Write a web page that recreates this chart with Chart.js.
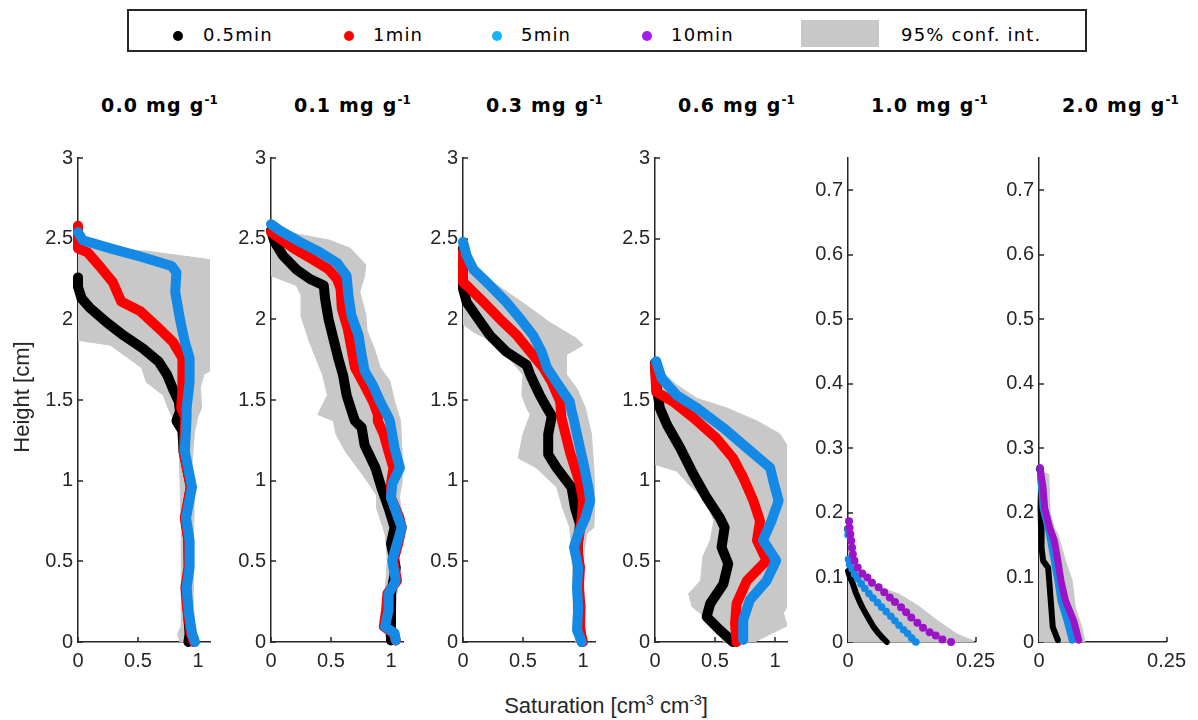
<!DOCTYPE html>
<html>
<head>
<meta charset="utf-8">
<script src="https://cdn.jsdelivr.net/npm/chart.js@4.4.1/dist/chart.umd.min.js"></script>
<style>
  body { margin: 0; background: #fff; width: 1198px; height: 720px; position: relative; overflow: hidden;
         font-family: "Liberation Sans", Arial, sans-serif; color: #262626; }
  .panel { position: absolute; top: 141px; }
  .title { position: absolute; top: 94px; font: bold 19px "DejaVu Sans", sans-serif; letter-spacing: 1.2px;
           line-height: 22px; white-space: nowrap; color: #000; }
  .title sup { font-size: 12px; line-height: 0; vertical-align: 8px; letter-spacing: 0; }
  #legend { position: absolute; left: 127px; top: 9px; width: 960px; height: 43px; box-sizing: border-box;
            border: 2px solid #262626; background: #fff; }
  .lg-dot { position: absolute; width: 10px; height: 10px; border-radius: 50%; top: 20px; }
  .lg-txt { position: absolute; top: 12px; font: 18px "DejaVu Sans", sans-serif; letter-spacing: 1.2px;
            line-height: 24px; color: #000; white-space: nowrap; }
  .lg-patch { position: absolute; left: 672px; top: 9px; width: 78px; height: 27px; background: #c8c8c8; }
  .axlabel { position: absolute; font-size: 22px; line-height: 24px; white-space: nowrap; text-align: center; }
  .axlabel sup { font-size: 14px; line-height: 0; vertical-align: 8px; }
</style>
</head>
<body>
<div id="legend"></div>
<div id="panels"></div>
<div class="axlabel" style="left:406px;top:694px;width:400px;">Saturation [cm<sup>3</sup> cm<sup>-3</sup>]</div>
<div class="axlabel" style="left:-78px;top:385px;width:200px;transform:rotate(-90deg);">Height [cm]</div>
<script>
// categories / labels
const concLabels = ["0.0", "0.1", "0.3", "0.6", "1.0", "2.0"];
const timeLabels = ["0.5min", "1min", "5min", "10min"];
const bandLabel = "95% conf. int.";
const xTicksWide = [0, 0.5, 1];
const xTicksNarrow = [0, 0.25];
const yTicksTall = [0, 0.5, 1, 1.5, 2, 2.5, 3];
const yTicksShort = [0, 0.1, 0.2, 0.3, 0.4, 0.5, 0.6, 0.7];

// profiles: [saturation, height]
const black00 = [[0,2.26],[0,2.2],[0.03,2.13],[0.10,2.07],[0.24,1.98],[0.38,1.90],[0.54,1.82],[0.67,1.74],[0.74,1.66],[0.79,1.57],[0.84,1.49],[0.85,1.43],[0.82,1.37],[0.87,1.31],[0.88,1.18],[0.94,0.96],[0.895,0.77],[0.92,0.63],[0.925,0.46],[0.9,0.34],[0.915,0.2],[0.93,0.05],[0.92,0]];
const red00 = [[0,2.58],[0,2.44],[0.08,2.415],[0.18,2.33],[0.29,2.23],[0.36,2.11],[0.52,2.05],[0.68,1.94],[0.79,1.86],[0.87,1.76],[0.87,1.66],[0.87,1.57],[0.86,1.45],[0.895,1.39],[0.88,1.18],[0.94,0.96],[0.89,0.77],[0.92,0.63],[0.92,0.46],[0.895,0.34],[0.91,0.2],[0.94,0.055],[0.965,0]];
const blue00 = [[0,2.54],[0.04,2.49],[0.27,2.44],[0.54,2.385],[0.78,2.33],[0.82,2.29],[0.81,2.17],[0.85,2.0],[0.89,1.86],[0.93,1.76],[0.93,1.61],[0.905,1.45],[0.905,1.39],[0.89,1.18],[0.95,0.96],[0.90,0.77],[0.93,0.63],[0.93,0.46],[0.905,0.34],[0.92,0.2],[0.95,0.055],[0.975,0]];
const band00 = [[0,2.46],[0.6,2.42],[1.1,2.37],[1.1,1.68],[1.05,1.66],[1.02,1.58],[1.03,1.45],[1.0,1.40],[0.97,1.30],[0.95,1.1],[0.97,0.9],[0.96,0.6],[0.96,0.3],[0.97,0.1],[0.99,0.05],[0.97,0],[0.85,0],[0.83,0.05],[0.86,0.1],[0.86,0.4],[0.86,0.7],[0.85,1.0],[0.84,1.29],[0.80,1.37],[0.75,1.45],[0.71,1.53],[0.57,1.61],[0.53,1.70],[0.38,1.78],[0.27,1.84],[0,1.87]];

const black01 = [[0,2.55],[0.03,2.48],[0.10,2.395],[0.21,2.31],[0.325,2.25],[0.44,2.21],[0.45,2.13],[0.48,2.0],[0.52,1.88],[0.56,1.76],[0.60,1.655],[0.63,1.53],[0.69,1.39],[0.70,1.37],[0.755,1.33],[0.78,1.22],[0.87,1.08],[0.92,0.957],[0.98,0.83],[1.03,0.71],[1.0,0.61],[1.04,0.46],[1.0,0.3],[1.0,0.1],[1.0,0.01]];
const red01 = [[0,2.54],[0.075,2.50],[0.19,2.44],[0.35,2.37],[0.48,2.31],[0.55,2.25],[0.58,2.19],[0.59,2.07],[0.64,1.94],[0.67,1.82],[0.70,1.70],[0.78,1.59],[0.85,1.49],[0.89,1.41],[0.89,1.37],[0.94,1.286],[0.98,1.18],[1.02,1.08],[1.0,0.98],[1.0,0.895],[1.07,0.77],[1.09,0.71],[1.06,0.61],[1.02,0.505],[1.05,0.38],[0.97,0.30],[0.96,0.20],[0.94,0.095],[1.02,0.055],[1.04,0.01]];
const blue01 = [[0,2.59],[0.075,2.55],[0.24,2.48],[0.41,2.415],[0.55,2.35],[0.63,2.27],[0.645,2.15],[0.67,2.025],[0.73,1.90],[0.755,1.78],[0.78,1.68],[0.85,1.59],[0.91,1.49],[0.98,1.39],[0.99,1.37],[1.0,1.33],[1.03,1.2],[1.075,1.08],[1.01,0.98],[1.0,0.895],[1.06,0.77],[1.09,0.71],[1.05,0.61],[1.01,0.505],[1.04,0.38],[0.98,0.30],[0.98,0.20],[0.95,0.095],[1.03,0.055],[1.04,0.01]];
const band01 = [[0,2.57],[0.21,2.53],[0.49,2.49],[0.66,2.44],[0.79,2.34],[0.78,2.27],[0.74,2.17],[0.79,2.03],[0.80,1.93],[0.86,1.82],[0.91,1.70],[0.99,1.62],[1.03,1.49],[1.08,1.37],[1.09,1.2],[1.09,0.98],[1.07,0.9],[1.1,0.75],[1.08,0.6],[1.06,0.45],[1.05,0.3],[1.03,0.15],[1.05,0.02],[0.97,0],[0.93,0.1],[0.95,0.3],[0.97,0.5],[0.96,0.6],[0.95,0.67],[0.88,0.83],[0.88,0.91],[0.77,1.03],[0.62,1.18],[0.54,1.29],[0.52,1.37],[0.39,1.41],[0.47,1.53],[0.43,1.655],[0.39,1.73],[0.32,1.86],[0.25,2.02],[0.25,2.15],[0.21,2.21],[0,2.27]];

const black03 = [[0,2.44],[0,2.19],[0.03,2.107],[0.13,2.0],[0.225,1.90],[0.36,1.80],[0.53,1.717],[0.56,1.656],[0.64,1.53],[0.70,1.45],[0.74,1.40],[0.71,1.286],[0.71,1.163],[0.78,1.08],[0.905,0.957],[0.933,0.834],[0.975,0.73],[0.955,0.6],[0.96,0.4],[0.96,0.2],[0.99,0]];
const red03 = [[0,2.42],[0,2.23],[0.058,2.19],[0.17,2.107],[0.31,2.0],[0.45,1.90],[0.56,1.80],[0.67,1.70],[0.74,1.61],[0.81,1.49],[0.82,1.39],[0.89,1.18],[0.975,0.98],[1.0,0.875],[0.99,0.77],[0.97,0.67],[0.95,0.587],[0.975,0.464],[0.965,0.34],[0.98,0.217],[0.975,0.074],[1.0,0]];
const blue03 = [[0,2.48],[0.03,2.395],[0.086,2.31],[0.225,2.21],[0.36,2.107],[0.475,2.005],[0.585,1.90],[0.655,1.80],[0.70,1.70],[0.78,1.61],[0.89,1.49],[0.905,1.43],[0.92,1.39],[0.95,1.286],[1.0,1.12],[1.045,0.957],[1.06,0.875],[1.02,0.77],[0.96,0.67],[0.925,0.587],[0.96,0.464],[0.95,0.34],[0.96,0.217],[0.95,0.074],[0.99,0]];
const band03 = [[0,2.45],[0.06,2.35],[0.25,2.23],[0.56,2.07],[0.725,1.98],[0.95,1.88],[1.0,1.84],[0.86,1.78],[0.86,1.66],[0.95,1.57],[1.02,1.45],[1.07,1.29],[1.09,1.08],[1.10,0.875],[1.09,0.71],[1.03,0.67],[1.0,0.5],[1.01,0.3],[1.0,0.1],[1.01,0],[0.94,0],[0.92,0.2],[0.91,0.5],[0.9,0.62],[0.89,0.71],[0.83,0.83],[0.78,0.96],[0.61,1.08],[0.46,1.14],[0.5,1.29],[0.56,1.41],[0.53,1.45],[0.49,1.53],[0.5,1.655],[0.36,1.78],[0.25,1.86],[0.09,1.92],[0,1.97]];

const black06 = [[0,1.73],[0.01,1.6],[0.04,1.45],[0.1,1.347],[0.21,1.203],[0.32,1.04],[0.43,0.895],[0.54,0.77],[0.58,0.71],[0.555,0.587],[0.61,0.485],[0.57,0.36],[0.46,0.238],[0.43,0.156],[0.54,0.074],[0.65,0]];
const red06 = [[0,1.72],[0.01,1.55],[0.15,1.49],[0.32,1.39],[0.51,1.265],[0.65,1.14],[0.735,1.02],[0.82,0.875],[0.875,0.75],[0.85,0.63],[0.93,0.505],[0.765,0.38],[0.68,0.238],[0.667,0.115],[0.68,0]];
const blue06 = [[0.01,1.74],[0.055,1.635],[0.18,1.53],[0.35,1.45],[0.57,1.327],[0.765,1.203],[0.96,1.08],[0.985,1.0],[1.03,0.875],[0.97,0.75],[0.9,0.63],[1.01,0.505],[0.93,0.38],[0.79,0.26],[0.735,0.136],[0.735,0.012]];
const band06 = [[0,1.72],[0.18,1.594],[0.35,1.51],[0.6,1.45],[0.85,1.37],[1.04,1.29],[1.1,1.22],[1.1,0.217],[1.07,0.18],[1.1,0.1],[0.83,0],[0.57,0],[0.51,0.1],[0.31,0.217],[0.28,0.30],[0.38,0.38],[0.40,0.53],[0.46,0.63],[0.49,0.75],[0.43,0.875],[0.29,0.97],[0.18,1.06],[0,1.10]];

const black10 = [[0,0.11],[0.003,0.102],[0.0095,0.09],[0.015,0.077],[0.022,0.064],[0.028,0.054],[0.035,0.044],[0.043,0.033],[0.0505,0.023],[0.058,0.015],[0.066,0.008],[0.076,0]];
const black10Top = [[0,0.175]];
const blue10 = [[0,0.175],[0,0.166],[0.001,0.128],[0.003,0.12],[0.008,0.113],[0.013,0.105],[0.019,0.098],[0.026,0.09],[0.033,0.083],[0.041,0.075],[0.049,0.068],[0.058,0.061],[0.066,0.054],[0.075,0.047],[0.084,0.04],[0.092,0.033],[0.1,0.026],[0.109,0.019],[0.117,0.013],[0.125,0.006],[0.133,0]];
const purple10 = [[0.002,0.187],[0.003,0.177],[0.0045,0.167],[0.0064,0.157],[0.008,0.146],[0.0095,0.136],[0.0127,0.126],[0.019,0.1155],[0.028,0.106],[0.038,0.100],[0.047,0.092],[0.060,0.085],[0.071,0.077],[0.082,0.069],[0.092,0.062],[0.104,0.054],[0.114,0.046],[0.124,0.038],[0.136,0.03],[0.147,0.022],[0.160,0.015],[0.172,0.010],[0.185,0.004],[0.202,0]];
const band10 = [[0,0.14],[0.015,0.12],[0.03,0.1],[0.06,0.085],[0.098,0.075],[0.136,0.057],[0.174,0.034],[0.212,0.013],[0.245,0.002],[0.245,0],[0,0]];

const black20 = [[0.002,0.268],[0.004,0.24],[0.003,0.208],[0.004,0.177],[0.005,0.146],[0.008,0.126],[0.018,0.115],[0.021,0.085],[0.024,0.054],[0.027,0.023],[0.037,0.003]];
const blue20 = [[0.002,0.27],[0.005,0.24],[0.008,0.208],[0.018,0.177],[0.030,0.126],[0.037,0.095],[0.043,0.064],[0.055,0.033],[0.065,0.003]];
const purple20 = [[0.002,0.27],[0.008,0.239],[0.011,0.208],[0.021,0.177],[0.030,0.157],[0.037,0.126],[0.043,0.095],[0.052,0.064],[0.068,0.033],[0.078,0.003]];
const band20 = [[0,0.265],[0.019,0.26],[0.022,0.2],[0.03,0.177],[0.037,0.167],[0.052,0.126],[0.065,0.095],[0.071,0.054],[0.084,0.023],[0.09,0],[0,0]];

const AXIS = "#262626";
const GRAY = "#c8c8c8";
const C_BLACK = "#000000", C_RED = "#ff0000", C_BLUE = "#1589e6", C_PURPLE = "#9b14c8";
const LEGEND_COLORS = ["#000000", "#ff0000", "#12b4ff", "#a41cf0"];

const toXY = (pts) => pts.map((p) => ({ x: p[0], y: p[1] }));

function lineSet(pts, color, w, order) {
  return { data: toXY(pts), showLine: true, borderColor: color, backgroundColor: color, borderWidth: w,
    borderCapStyle: "round", borderJoinStyle: "round", pointRadius: 0, fill: false, order, clip: 8 };
}
function dotSet(pts, color, r, order) {
  return { data: toXY(pts), showLine: false, pointRadius: r, pointBackgroundColor: color,
    pointBorderColor: color, pointBorderWidth: 0, order, clip: 8 };
}
function bandSet(pts) {
  return { data: toXY(pts), showLine: true, borderColor: GRAY, borderWidth: 1, pointRadius: 0,
    fill: "shape", backgroundColor: GRAY, order: 10 };
}

const panels = [
  { left: 78, xMax: 1.1, yMax: 3, xt: xTicksWide, yt: yTicksTall, sets: [bandSet(band00), lineSet(black00, C_BLACK, 10, 3), lineSet(red00, C_RED, 10, 2), lineSet(blue00, C_BLUE, 10, 1)] },
  { left: 271, xMax: 1.1, yMax: 3, xt: xTicksWide, yt: yTicksTall, sets: [bandSet(band01), lineSet(black01, C_BLACK, 10, 3), lineSet(red01, C_RED, 10, 2), lineSet(blue01, C_BLUE, 10, 1)] },
  { left: 463, xMax: 1.1, yMax: 3, xt: xTicksWide, yt: yTicksTall, sets: [bandSet(band03), lineSet(black03, C_BLACK, 10, 3), lineSet(red03, C_RED, 10, 2), lineSet(blue03, C_BLUE, 10, 1)] },
  { left: 655, xMax: 1.1, yMax: 3, xt: xTicksWide, yt: yTicksTall, sets: [bandSet(band06), lineSet(black06, C_BLACK, 10, 3), lineSet(red06, C_RED, 10, 2), lineSet(blue06, C_BLUE, 10, 1)] },
  { left: 848, xMax: 0.25, yMax: 0.75, xt: xTicksNarrow, yt: yTicksShort, sets: [bandSet(band10), lineSet(black10, C_BLACK, 6, 3), dotSet(black10Top, C_BLACK, 4, 3), dotSet(blue10, C_BLUE, 3.8, 2), dotSet(purple10, C_PURPLE, 4, 1)] },
  { left: 1039, xMax: 0.25, yMax: 0.75, xt: xTicksNarrow, yt: yTicksShort, sets: [bandSet(band20), lineSet(black20, C_BLACK, 6, 3), dotSet([black20[0]], C_BLACK, 4, 3), lineSet(blue20, C_BLUE, 7, 2), lineSet(purple20, C_PURPLE, 7, 1)] },
];

const inwardTicks = {
  id: "inwardTicks",
  beforeDatasetsDraw(chart) {
    const { ctx, chartArea: a, scales: { x, y } } = chart;
    ctx.save();
    ctx.strokeStyle = AXIS;
    ctx.lineWidth = 1.5;
    ctx.beginPath();
    x.ticks.forEach((t) => { const px = Math.round(x.getPixelForValue(t.value)); ctx.moveTo(px, a.bottom); ctx.lineTo(px, a.bottom - 5); });
    y.ticks.forEach((t) => { const py = Math.round(y.getPixelForValue(t.value)); ctx.moveTo(a.left, py); ctx.lineTo(a.left + 5, py); });
    ctx.stroke();
    ctx.restore();
  },
};

const fmt = (v) => String(+v.toFixed(2));
const tickFont = { family: "Liberation Sans", size: 20 };

const host = document.getElementById("panels");
panels.forEach((p, i) => {
  const cv = document.createElement("canvas");
  cv.className = "panel";
  cv.width = 216; cv.height = 536;
  cv.style.left = (p.left - 62) + "px";
  host.appendChild(cv);

  const t = document.createElement("div");
  t.className = "title";
  t.style.left = (p.left + 23) + "px";
  t.innerHTML = concLabels[i] + " mg g<sup>-1</sup>";
  document.body.appendChild(t);

  new Chart(cv, {
    type: "scatter",
    data: { datasets: p.sets },
    options: {
      responsive: false, animation: false, events: [],
      layout: { padding: { left: 0, right: 22, top: 14, bottom: 0 } },
      plugins: { legend: { display: false }, tooltip: { enabled: false } },
      scales: {
        x: {
          type: "linear", min: 0, max: p.xMax,
          grid: { display: false, drawTicks: false },
          border: { display: true, color: AXIS, width: 1.5 },
          afterBuildTicks: (s) => { s.ticks = p.xt.map((v) => ({ value: v })); },
          afterFit: (s) => { s.height = 35; },
          ticks: { font: tickFont, color: AXIS, padding: 7, maxRotation: 0, autoSkip: false, callback: fmt },
        },
        y: {
          type: "linear", min: 0, max: p.yMax,
          grid: { display: false, drawTicks: false },
          border: { display: true, color: AXIS, width: 1.5 },
          afterBuildTicks: (s) => { s.ticks = p.yt.map((v) => ({ value: v })); },
          afterFit: (s) => { s.width = 62; },
          ticks: { font: tickFont, color: AXIS, padding: 5, autoSkip: false, callback: fmt },
        },
      },
    },
    plugins: [inwardTicks],
  });
});

// legend
const lg = document.getElementById("legend");
const dotX = [44, 215, 363, 513];
const txtX = [74, 244, 392, 542];
timeLabels.forEach((lab, i) => {
  lg.insertAdjacentHTML("beforeend",
    `<div class="lg-dot" style="left:${dotX[i]}px;background:${LEGEND_COLORS[i]}"></div>` +
    `<div class="lg-txt" style="left:${txtX[i]}px">${lab}</div>`);
});
lg.insertAdjacentHTML("beforeend", `<div class="lg-patch"></div><div class="lg-txt" style="left:772px">${bandLabel}</div>`);
</script>
</body>
</html>
